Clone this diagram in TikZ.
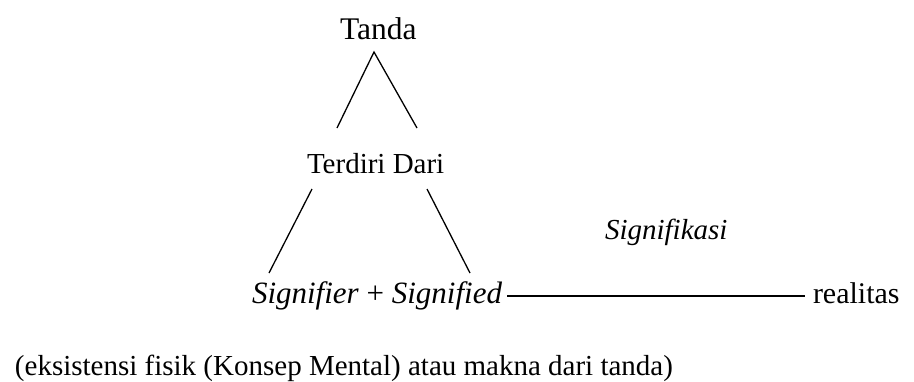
\documentclass[tikz,border=0pt]{standalone}
\usepackage{fontspec}
\setmainfont{Liberation Serif}
\begin{document}
\begin{tikzpicture}[x=1pt,y=-1pt,
  lbl/.style={anchor=base west,inner sep=0pt,outer sep=0pt,font=\fontsize{29}{34}\selectfont},
  ln/.style={line width=1.3pt}]
\useasboundingbox (0,0) rectangle (914,381);
\node[lbl,font=\fontsize{31.5}{36}\selectfont] (tanda) at (340,39) {Tanda};
\node[lbl] (terdiri) at (307,173) {Terdiri Dari};
\node[lbl,font=\fontsize{31}{36}\selectfont] (sig) at (252,303) {\textit{Signifier} + \textit{Signified}};
\node[lbl] (signif) at (605,239) {\textit{Signifikasi}};
\node[lbl,font=\fontsize{30}{35}\selectfont] (real) at (813,303) {realitas};
\node[lbl] (note) at (15,375) {(eksistensi fisik (Konsep Mental) atau makna dari tanda)};
\coordinate (apex) at (374,52);
\coordinate (tl) at (337,128);
\coordinate (tr) at (417,128);
\coordinate (bl1) at (312,189);
\coordinate (bl2) at (269,273);
\coordinate (br1) at (427,189);
\coordinate (br2) at (470,273);
\coordinate (h1) at (507,296);
\coordinate (h2) at (805,296);
\draw[ln] (tl) -- (apex) -- (tr);
\draw[ln] (bl1) -- (bl2);
\draw[ln] (br1) -- (br2);
\draw[ln] (h1) -- (h2);
\end{tikzpicture}
\end{document}
